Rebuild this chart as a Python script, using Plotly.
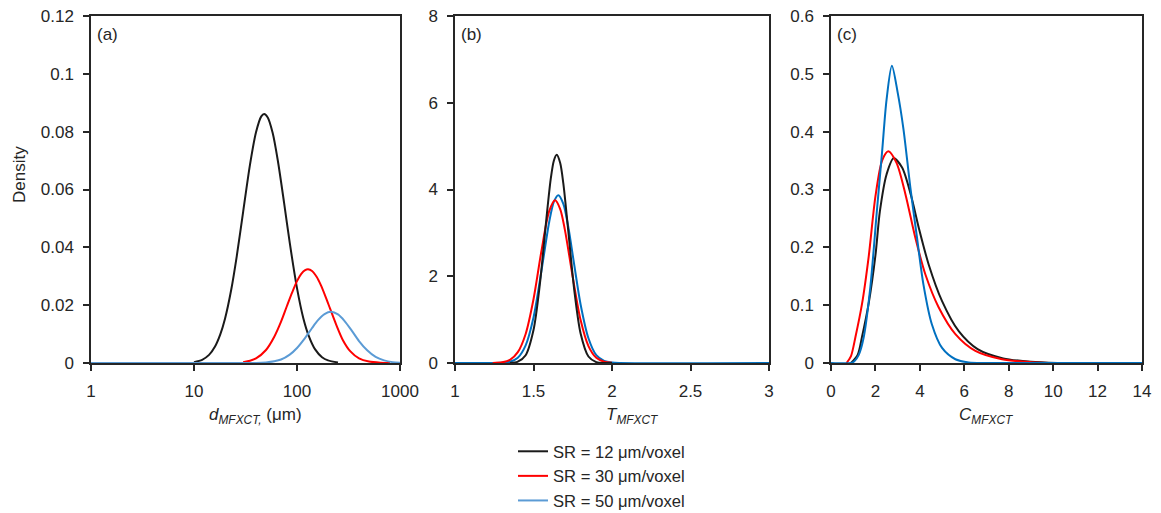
import plotly.graph_objects as go

W, H = 1161, 513
FONT = "Arial, Liberation Sans, sans-serif"
INK = "#262626"

# Series labels and colours
series = ["SR = 12 μm/voxel", "SR = 30 μm/voxel", "SR = 50 μm/voxel"]
colors_a = ["#1a1a1a", "#ff0000", "#5b9bd5"]
colors_bc = ["#1a1a1a", "#ff0000", "#0070c0"]

# (a) equivalent diameter d_MFXCT (µm)
d_12 = [10, 12, 14, 16, 18, 20, 23, 26, 30, 35, 40, 45, 48, 52, 58, 65, 75, 85,
        100, 115, 130, 150, 175, 200, 250]
pdf_d_12 = [0.0003, 0.0011, 0.0028, 0.0057, 0.0099, 0.0153, 0.0254, 0.0369, 0.0523,
            0.0687, 0.0798, 0.0853, 0.0861, 0.0849, 0.0796, 0.0702, 0.0553, 0.0416,
            0.0259, 0.0156, 0.0094, 0.0047, 0.0020, 0.0009, 0.0002]
d_30 = [30, 35, 40, 50, 60, 70, 80, 90, 100, 110, 120, 128, 140, 155, 170, 190,
        210, 240, 280, 330, 400, 500, 650, 800]
pdf_d_30 = [0.0003, 0.0008, 0.0016, 0.0045, 0.0090, 0.0143, 0.0198, 0.0245, 0.0283,
            0.0308, 0.0321, 0.0324, 0.0318, 0.0298, 0.0270, 0.0228, 0.0187, 0.0133,
            0.0078, 0.0040, 0.0016, 0.0005, 0.0001, 0.0]
d_50 = [1, 10, 40, 50, 60, 70, 85, 100, 120, 140, 160, 185, 214, 250, 290, 340,
        400, 480, 580, 700, 850, 1000]
pdf_d_50 = [0.0, 0.0, 0.0, 0.0002, 0.0006, 0.0012, 0.0029, 0.0052, 0.0087, 0.0121,
            0.0148, 0.0169, 0.0177, 0.0168, 0.0145, 0.0112, 0.0076, 0.0044, 0.0021,
            0.0009, 0.0003, 0.0001]

# (b) T_MFXCT
T_12 = [1.35, 1.40, 1.45, 1.50, 1.54, 1.58, 1.61, 1.63, 1.648, 1.67, 1.69, 1.72,
        1.76, 1.80, 1.85, 1.90, 1.95, 2.0]
pdf_T_12 = [0.0, 0.03, 0.18, 0.76, 1.80, 3.25, 4.25, 4.67, 4.80, 4.61, 4.14, 3.10,
            1.67, 0.68, 0.15, 0.02, 0.0, 0.0]
T_30 = [1.24, 1.30, 1.35, 1.40, 1.45, 1.50, 1.55, 1.60, 1.637, 1.67, 1.70, 1.75,
        1.80, 1.85, 1.90, 1.95, 2.0]
pdf_T_30 = [0.0, 0.015, 0.07, 0.25, 0.67, 1.47, 2.57, 3.50, 3.75, 3.55, 3.07, 1.98,
            0.99, 0.39, 0.12, 0.03, 0.005]
T_50 = [1.0, 1.25, 1.30, 1.35, 1.40, 1.45, 1.50, 1.55, 1.60, 1.63, 1.658, 1.69,
        1.72, 1.76, 1.80, 1.85, 1.90, 1.95, 2.0, 2.05, 3.0]
pdf_T_50 = [0.0, 0.0, 0.005, 0.028, 0.121, 0.407, 1.05, 2.11, 3.25, 3.72, 3.87, 3.67,
            3.17, 2.25, 1.35, 0.57, 0.18, 0.05, 0.01, 0.0, 0.0]

# (c) C_MFXCT
C_12 = [0.9, 1.2, 1.4, 1.7, 2.0, 2.2, 2.5, 2.82, 3.2, 3.6, 3.95, 4.4, 5.0, 5.75,
        6.6, 7.75, 9.0, 10.2]
pdf_C_12 = [0.0, 0.014, 0.046, 0.104, 0.186, 0.262, 0.326, 0.354, 0.338, 0.290,
            0.234, 0.170, 0.107, 0.055, 0.024, 0.008, 0.002, 0.0]
C_30 = [0.7, 0.9, 1.1, 1.4, 1.7, 2.0, 2.3, 2.58, 2.95, 3.35, 3.8, 4.25, 4.85, 5.6,
        6.5, 7.7, 9.0, 10.2]
pdf_C_30 = [0.0, 0.012, 0.045, 0.103, 0.185, 0.288, 0.350, 0.366, 0.346, 0.292,
            0.216, 0.153, 0.096, 0.050, 0.021, 0.0065, 0.0015, 0.0]
C_50 = [0.0, 0.9, 1.05, 1.25, 1.47, 1.77, 2.07, 2.3, 2.5, 2.74, 3.0, 3.26, 3.57,
        3.87, 4.16, 4.54, 5.0, 5.6, 6.2, 7.0, 14.0]
pdf_C_50 = [0.0, 0.0, 0.003, 0.014, 0.044, 0.131, 0.265, 0.365, 0.455, 0.514, 0.468,
            0.405, 0.304, 0.217, 0.136, 0.067, 0.026, 0.0065, 0.001, 0.0, 0.0]

panel_tags = ["(a)", "(b)", "(c)"]


def px_x(p):
    return p / W


def px_y(p):
    return 1 - p / H


# plot areas in pixels: (left, right)
boxes = [(91, 400), (455, 769), (831, 1142)]
top_px, bottom_px = 16, 363

fig = go.Figure()


def add(x, y, color, xa, ya, name, show):
    fig.add_trace(go.Scatter(
        x=x, y=y, mode="lines", name=name, showlegend=show,
        line=dict(color=color, width=2, shape="spline", smoothing=0.8),
        xaxis=xa, yaxis=ya, hoverinfo="skip"))


# (a): blue drawn last
for x, y, c, n in zip([d_12, d_30, d_50], [pdf_d_12, pdf_d_30, pdf_d_50], colors_a, series):
    add(x, y, c, "x", "y", n, True)
# (b): black drawn last
for x, y, c, n in list(zip([T_12, T_30, T_50], [pdf_T_12, pdf_T_30, pdf_T_50],
                           colors_bc, series))[::-1]:
    add(x, y, c, "x2", "y2", n, False)
# (c): blue drawn last
for x, y, c, n in zip([C_12, C_30, C_50], [pdf_C_12, pdf_C_30, pdf_C_50], colors_bc, series):
    add(x, y, c, "x3", "y3", n, False)

axis_common = dict(showline=True, linecolor=INK, linewidth=1.5, mirror=True,
                   ticks="outside", ticklen=6, tickwidth=1.5, tickcolor=INK,
                   showgrid=False, zeroline=False, layer="below traces",
                   automargin=False,
                   tickfont=dict(family=FONT, size=17, color=INK))

ydom = [px_y(bottom_px), px_y(top_px)]
layout = dict(
    template="none",
    width=W, height=H, margin=dict(l=0, r=0, t=0, b=0, pad=0, autoexpand=False),
    paper_bgcolor="white", plot_bgcolor="white",
    font=dict(family=FONT, size=17, color=INK),
    xaxis=dict(domain=[px_x(boxes[0][0]), px_x(boxes[0][1])], type="log", range=[0, 3],
               tickvals=[1, 10, 100, 1000], ticktext=["1", "10", "100", "1000"],
               anchor="y", ticklabelstandoff=6, **axis_common),
    yaxis=dict(domain=ydom, range=[0, 0.12], dtick=0.02, anchor="x",
               ticklabelstandoff=6, **axis_common),
    xaxis2=dict(domain=[px_x(boxes[1][0]), px_x(boxes[1][1])], range=[1, 3], dtick=0.5,
                anchor="y2", ticklabelstandoff=6, **axis_common),
    yaxis2=dict(domain=ydom, range=[0, 8], dtick=2, anchor="x2",
                ticklabelstandoff=6, **axis_common),
    xaxis3=dict(domain=[px_x(boxes[2][0]), px_x(boxes[2][1])], range=[0, 14], dtick=2,
                anchor="y3", ticklabelstandoff=6, **axis_common),
    yaxis3=dict(domain=ydom, range=[0, 0.6], dtick=0.1, anchor="x3",
                ticklabelstandoff=6, **axis_common),
    legend=dict(x=px_x(513), y=px_y(434), xanchor="left", yanchor="top",
                bgcolor="rgba(0,0,0,0)", borderwidth=0,
                font=dict(family=FONT, size=16.6, color=INK),
                tracegroupgap=0, itemwidth=30),
)
fig.update_layout(**layout)

annotations = []
for tag, (l, r) in zip(panel_tags, boxes):
    annotations.append(dict(text=tag, x=px_x(l + 4), y=px_y(35), xref="paper",
                            yref="paper", xanchor="left", yanchor="middle",
                            showarrow=False, font=dict(size=17)))

annotations.append(dict(text="Density", x=px_x(20), y=px_y(175), xref="paper",
                        yref="paper", textangle=-90, showarrow=False,
                        xanchor="center", yanchor="middle", font=dict(size=17)))
x_titles = [
    ("<i>d</i><sub><i>MFXCT,</i></sub> (μm)", 255),
    ("<i>T</i><sub><i>MFXCT</i></sub>", 632),
    ("<i>C</i><sub><i>MFXCT</i></sub>", 986),
]
for txt, cx in x_titles:
    annotations.append(dict(text=txt, x=px_x(cx), y=px_y(416), xref="paper",
                            yref="paper", xanchor="center", yanchor="middle",
                            showarrow=False, font=dict(size=17)))
fig.update_layout(annotations=annotations)

fig.write_html("out.html")
